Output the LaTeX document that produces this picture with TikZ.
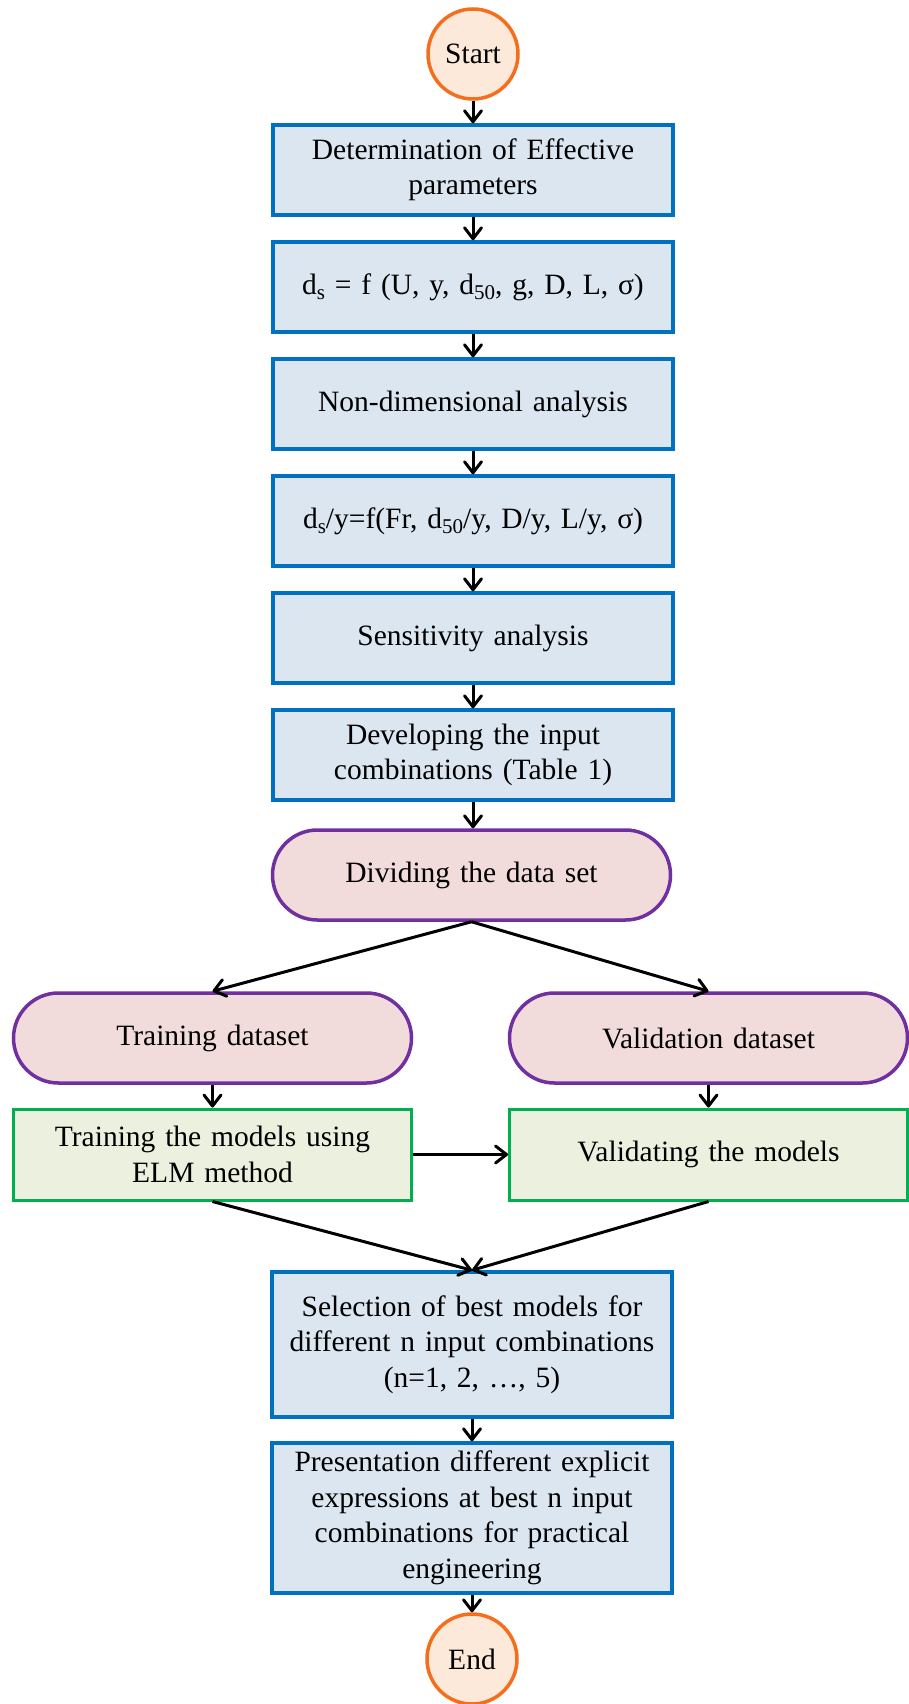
\documentclass[tikz,border=0pt]{standalone}
\usepackage{fontspec}
\setmainfont{Liberation Serif}
\usetikzlibrary{arrows.meta}
\definecolor{bluefill}{RGB}{220,230,241}
\definecolor{blueline}{RGB}{0,112,192}
\definecolor{pinkfill}{RGB}{242,220,219}
\definecolor{purpline}{RGB}{112,48,160}
\definecolor{greenfill}{RGB}{235,241,222}
\definecolor{greenline}{RGB}{0,176,80}
\definecolor{orangefill}{RGB}{253,233,217}
\definecolor{orangeline}{RGB}{245,110,30}
\newcommand\lowsub[1]{\raisebox{-0.4ex}{\fontsize{21pt}{21pt}\selectfont #1}}
\tikzset{
  txt/.style={font=\fontsize{29.5pt}{35.5pt}\selectfont, align=center, inner sep=0pt},
  bluebox/.style={txt, draw=blueline, fill=bluefill, line width=3.5pt, minimum width=400pt, minimum height=90pt, text width=385pt},
  pinkbox/.style={txt, draw=purpline, fill=pinkfill, line width=3.5pt, rounded corners=45pt, minimum width=398pt, minimum height=90pt, text width=330pt},
  greenbox/.style={txt, draw=greenline, fill=greenfill, line width=3pt, minimum width=398pt, minimum height=91pt, text width=385pt},
  term/.style={txt, circle, draw=orangeline, fill=orangefill, line width=3.5pt, minimum size=90pt},
  arr/.style={line width=3pt, -{Straight Barb[length=11pt,width=17pt,line width=3pt,round]}}
}
\begin{document}
\begin{tikzpicture}[x=1pt,y=1pt]
\useasboundingbox (0,0) rectangle (909,-1704);
\node[term] (start) at (473,-54) {Start};
\node[bluebox] (b1) at (473,-170) {Determination of Effective\\parameters};
\node[bluebox] (b2) at (473,-287) {d\lowsub{s} = f (U, y, d\lowsub{50}, g, D, L, σ)};
\node[bluebox] (b3) at (473,-404) {Non-dimensional analysis};
\node[bluebox] (b4) at (473,-521) {d\lowsub{s}/y=f(Fr, d\lowsub{50}/y, D/y, L/y, σ)};
\node[bluebox] (b5) at (473,-638) {Sensitivity analysis};
\node[bluebox] (b6) at (473,-755) {Developing the input\\combinations (Table 1)};
\node[pinkbox] (div) at (471.5,-875) {Dividing the data set};
\node[pinkbox] (tr) at (212.5,-1038) {Training dataset};
\node[pinkbox] (va) at (708.5,-1038) {Validation dataset};
\node[greenbox] (trm) at (212.5,-1154.5) {Training the models using\\ELM method};
\node[greenbox] (vam) at (708.5,-1154.5) {Validating the models};
\node[bluebox, minimum height=145pt] (sel) at (472,-1344.5) {Selection of best models for\\different n input combinations\\(n=1, 2, …, 5)};
\node[bluebox, minimum height=150pt] (pres) at (472,-1518) {Presentation different explicit\\expressions at best n input\\combinations for practical\\engineering};
\node[term] (end) at (472,-1659) {End};
\draw[arr] (start) -- (b1);
\draw[arr] (b1) -- (b2);
\draw[arr] (b2) -- (b3);
\draw[arr] (b3) -- (b4);
\draw[arr] (b4) -- (b5);
\draw[arr] (b5) -- (b6);
\draw[arr] (b6.south) -- (b6.south |- div.north);
\draw[arr] (div.south) -- (tr.north);
\draw[arr] (div.south) -- (va.north);
\draw[arr] (tr) -- (trm);
\draw[arr] (va) -- (vam);
\draw[arr] (trm) -- (vam);
\draw[arr] (trm.south) -- (sel.north);
\draw[arr] (vam.south) -- (sel.north);
\draw[arr] (sel) -- (pres);
\draw[arr] (pres) -- (end);
\end{tikzpicture}
\end{document}
